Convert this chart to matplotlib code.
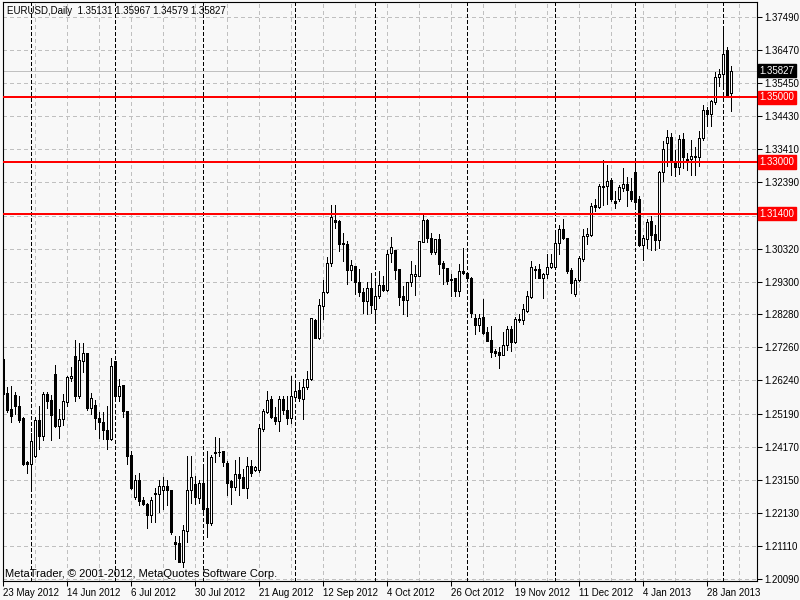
import numpy as np
import pandas as pd
import matplotlib
matplotlib.use("Agg")
import matplotlib.pyplot as plt

# EURUSD daily candles, 23 May 2012 .. 5 Feb 2013
open_ = [1.2690, 1.2585, 1.2535, 1.2579, 1.2544, 1.2507, 1.2371, 1.2366, 1.2391, 1.2501,
         1.2453, 1.2582, 1.2564, 1.2644, 1.2484, 1.2505, 1.2558, 1.2631, 1.2700, 1.2577,
         1.2685, 1.2708, 1.2539, 1.2548, 1.2507, 1.2494, 1.2471, 1.2443, 1.2683, 1.2577,
         1.2610, 1.2528, 1.2393, 1.2262, 1.2316, 1.2254, 1.2242, 1.2206, 1.2276, 1.2273,
         1.2286, 1.2296, 1.2285, 1.2124, 1.2120, 1.2062, 1.2159, 1.2283, 1.2303, 1.2259,
         1.2306, 1.2228, 1.2182, 1.2399, 1.2403, 1.2404, 1.2369, 1.2311, 1.2293, 1.2335,
         1.2326, 1.2292, 1.2360, 1.2345, 1.2345, 1.2472, 1.2525, 1.2566, 1.2511, 1.2499,
         1.2566, 1.2532, 1.2506, 1.2571, 1.2593, 1.2566, 1.2602, 1.2627, 1.2810, 1.2754,
         1.2854, 1.2898, 1.2988, 1.3120, 1.3117, 1.3049, 1.3047, 1.2965, 1.2978, 1.2929,
         1.2898, 1.2869, 1.2909, 1.2844, 1.2885, 1.2919, 1.2905, 1.3018, 1.3027, 1.2968,
         1.2885, 1.2873, 1.2927, 1.2948, 1.2948, 1.3053, 1.3120, 1.3066, 1.3020, 1.3061,
         1.2987, 1.2973, 1.2937, 1.2942, 1.2901, 1.2962, 1.2956, 1.2942, 1.2817, 1.2796,
         1.2819, 1.2774, 1.2749, 1.2716, 1.2713, 1.2704, 1.2735, 1.2783, 1.2742, 1.2814,
         1.2812, 1.2840, 1.2882, 1.2966, 1.2970, 1.2942, 1.2952, 1.2976, 1.2976, 1.3048,
         1.3093, 1.3065, 1.2967, 1.2890, 1.2936, 1.3001, 1.3072, 1.3075, 1.3168, 1.3161,
         1.3225, 1.3225, 1.3243, 1.3178, 1.3186, 1.3220, 1.3232, 1.3211, 1.3269, 1.3184,
         1.3044, 1.3062, 1.3117, 1.3077, 1.3060, 1.3268, 1.3359, 1.3377, 1.3297, 1.3284,
         1.3371, 1.3309, 1.3309, 1.3320, 1.3315, 1.3374, 1.3462, 1.3449, 1.3487, 1.3563,
         1.3573, 1.3647, 1.35131]
high = [1.2692, 1.2602, 1.2606, 1.2587, 1.2577, 1.2510, 1.2373, 1.2460, 1.2510, 1.2546,
        1.2589, 1.2589, 1.2580, 1.2671, 1.2535, 1.2582, 1.2636, 1.2664, 1.2749, 1.2739,
        1.2741, 1.2708, 1.2585, 1.2564, 1.2525, 1.2525, 1.2546, 1.2692, 1.2685, 1.2628,
        1.2610, 1.2528, 1.2404, 1.2331, 1.2338, 1.2262, 1.2245, 1.2262, 1.2290, 1.2314,
        1.2324, 1.2314, 1.2285, 1.2142, 1.2142, 1.2175, 1.2389, 1.2391, 1.2329, 1.2317,
        1.2365, 1.2404, 1.2393, 1.2448, 1.2445, 1.2404, 1.2373, 1.2314, 1.2376, 1.2386,
        1.2350, 1.2386, 1.2376, 1.2360, 1.2489, 1.2535, 1.2590, 1.2576, 1.2540, 1.2576,
        1.2576, 1.2576, 1.2638, 1.2612, 1.2620, 1.2627, 1.2653, 1.2818, 1.2813, 1.2875,
        1.2936, 1.3005, 1.3168, 1.3168, 1.3119, 1.3081, 1.3055, 1.2998, 1.2978, 1.2970,
        1.2911, 1.2929, 1.2957, 1.2929, 1.2964, 1.2947, 1.3029, 1.3069, 1.3027, 1.2968,
        1.2915, 1.2929, 1.2993, 1.2981, 1.3055, 1.3140, 1.3125, 1.3081, 1.3063, 1.3078,
        1.2994, 1.2973, 1.2953, 1.2942, 1.2984, 1.3035, 1.2960, 1.2945, 1.2829, 1.2829,
        1.2875, 1.2788, 1.2793, 1.2721, 1.2726, 1.2774, 1.2793, 1.2793, 1.2819, 1.2828,
        1.2860, 1.2900, 1.2993, 1.2978, 1.2983, 1.2957, 1.3014, 1.3014, 1.3081, 1.3106,
        1.3125, 1.3065, 1.2972, 1.2941, 1.3009, 1.3093, 1.3096, 1.3173, 1.3184, 1.3232,
        1.3307, 1.3292, 1.3250, 1.3209, 1.3230, 1.3281, 1.3253, 1.3250, 1.3297, 1.3194,
        1.3075, 1.3125, 1.3132, 1.3106, 1.3271, 1.3364, 1.3400, 1.3390, 1.3338, 1.3384,
        1.3390, 1.3328, 1.3369, 1.3348, 1.3395, 1.3477, 1.3470, 1.3493, 1.3580, 1.3587,
        1.3709, 1.3657, 1.35967]
low = [1.2580, 1.2525, 1.2494, 1.2520, 1.2494, 1.2362, 1.2338, 1.2288, 1.2386, 1.2412,
       1.2440, 1.2539, 1.2438, 1.2481, 1.2445, 1.2486, 1.2544, 1.2623, 1.2559, 1.2568,
       1.2649, 1.2533, 1.2520, 1.2474, 1.2445, 1.2443, 1.2412, 1.2438, 1.2566, 1.2561,
       1.2510, 1.2366, 1.2288, 1.2257, 1.2237, 1.2237, 1.2167, 1.2185, 1.2187, 1.2216,
       1.2226, 1.2237, 1.2149, 1.2072, 1.2062, 1.2046, 1.2124, 1.2245, 1.2242, 1.2245,
       1.2221, 1.2139, 1.2175, 1.2371, 1.2391, 1.2360, 1.2268, 1.2242, 1.2283, 1.2268,
       1.2290, 1.2259, 1.2329, 1.2343, 1.2340, 1.2468, 1.2523, 1.2507, 1.2488, 1.2466,
       1.2519, 1.2488, 1.2493, 1.2560, 1.2560, 1.2504, 1.2596, 1.2625, 1.2754, 1.2751,
       1.2813, 1.2895, 1.2978, 1.3096, 1.3024, 1.2993, 1.2921, 1.2936, 1.2890, 1.2885,
       1.2833, 1.2830, 1.2833, 1.2806, 1.2880, 1.2900, 1.2900, 1.2991, 1.2937, 1.2857,
       1.2829, 1.2824, 1.2917, 1.2889, 1.2946, 1.3051, 1.3051, 1.3014, 1.3014, 1.2953,
       1.2922, 1.2922, 1.2886, 1.2884, 1.2886, 1.2953, 1.2932, 1.2819, 1.2767, 1.2778,
       1.2769, 1.2747, 1.2695, 1.2698, 1.2661, 1.2702, 1.2719, 1.2716, 1.2739, 1.2805,
       1.2800, 1.2835, 1.2880, 1.2942, 1.2940, 1.2880, 1.2942, 1.2972, 1.2972, 1.3014,
       1.3062, 1.2957, 1.2895, 1.2885, 1.2933, 1.2993, 1.3045, 1.3070, 1.3148, 1.3158,
       1.3168, 1.3170, 1.3178, 1.3158, 1.3180, 1.3209, 1.3163, 1.3178, 1.3158, 1.3039,
       1.2998, 1.3035, 1.3029, 1.3029, 1.3034, 1.3242, 1.3287, 1.3261, 1.3256, 1.3264,
       1.3281, 1.3276, 1.3261, 1.3261, 1.3287, 1.3369, 1.3410, 1.3410, 1.3480, 1.3534,
       1.3534, 1.3501, 1.34579]
close = [1.2582, 1.2533, 1.2515, 1.2544, 1.2502, 1.2366, 1.2366, 1.2436, 1.2502, 1.2453,
         1.2582, 1.2561, 1.2518, 1.2484, 1.2505, 1.2561, 1.2633, 1.2636, 1.2577, 1.2687,
         1.2708, 1.2539, 1.2569, 1.2507, 1.2494, 1.2469, 1.2443, 1.2669, 1.2577, 1.2608,
         1.2528, 1.2391, 1.2290, 1.2316, 1.2252, 1.2240, 1.2206, 1.2255, 1.2271, 1.2296,
         1.2296, 1.2283, 1.2154, 1.2118, 1.2062, 1.2161, 1.2283, 1.2326, 1.2262, 1.2307,
         1.2226, 1.2182, 1.2388, 1.2402, 1.2401, 1.2371, 1.2307, 1.2293, 1.2335, 1.2322,
         1.2292, 1.2360, 1.2337, 1.2357, 1.2477, 1.2529, 1.2564, 1.2511, 1.2499, 1.2566,
         1.2532, 1.2506, 1.2576, 1.2591, 1.2569, 1.2602, 1.2627, 1.2816, 1.2756, 1.2856,
         1.2898, 1.2988, 1.3129, 1.3115, 1.3047, 1.3045, 1.2965, 1.2980, 1.2929, 1.2898,
         1.2869, 1.2911, 1.2857, 1.2885, 1.2919, 1.2905, 1.3016, 1.3038, 1.2966, 1.2883,
         1.2873, 1.2927, 1.2952, 1.2952, 1.3055, 1.3120, 1.3065, 1.3022, 1.3061, 1.2985,
         1.2973, 1.2932, 1.2934, 1.2901, 1.2962, 1.2956, 1.2942, 1.2832, 1.2796, 1.2817,
         1.2772, 1.2747, 1.2711, 1.2709, 1.2704, 1.2735, 1.2783, 1.2742, 1.2814, 1.2812,
         1.2846, 1.2885, 1.2975, 1.2970, 1.2942, 1.2952, 1.2976, 1.2986, 1.3050, 1.3093,
         1.3065, 1.2964, 1.2926, 1.2934, 1.3004, 1.3072, 1.3077, 1.3163, 1.3160, 1.3225,
         1.3222, 1.3242, 1.3186, 1.3173, 1.3222, 1.3233, 1.3214, 1.3184, 1.3175, 1.3044,
         1.3065, 1.3114, 1.3075, 1.3060, 1.3268, 1.3340, 1.3377, 1.3302, 1.3284, 1.3371,
         1.3315, 1.3305, 1.3320, 1.3315, 1.3374, 1.3462, 1.3449, 1.3489, 1.3563, 1.3573,
         1.3635, 1.3508, 1.35827]

levels = [1.35000, 1.33000, 1.31400]     # horizontal lines drawn by hand
bid = 1.35827
price_ticks = [1.37490, 1.36470, 1.35450, 1.34430, 1.33410, 1.32390, 1.31340,
               1.30320, 1.29300, 1.28280, 1.27260, 1.26240, 1.25190, 1.24170,
               1.23150, 1.22130, 1.21110, 1.20090]

# trading days: weekdays without Christmas and New Year
dates = pd.bdate_range("2012-05-23", "2013-02-05")
dates = dates[~dates.isin(pd.to_datetime(["2012-12-25", "2013-01-01"]))]

bg = "#f8f8f8"
thin = 0.68   # about one pixel
plt.rcParams["font.family"] = ["Liberation Sans", "DejaVu Sans"]

fig = plt.figure(figsize=(8, 6), dpi=100, facecolor=bg)
ax = fig.add_axes([2.5 / 800, 19 / 600, 754.5 / 800, 579 / 600], facecolor=bg)

o = np.array(open_)
c = np.array(close)
x = np.arange(len(o))
up = c >= o

# grid
for p in price_ticks:
    ax.axhline(p, color="#c0c0c0", lw=thin, ls=(0, (4, 4)), zorder=1, antialiased=False)
for k in range(0, 189, 8):
    ax.axvline(k, color="#c0c0c0", lw=thin, ls=(0, (4, 4)), zorder=1, antialiased=False)

# month separators
month = np.array([d.month for d in dates])
seps = np.where(month[1:] != month[:-1])[0] + 1
for s in seps:
    ax.axvline(s, color="black", lw=thin, ls=(0, (4, 3)), zorder=1.5, antialiased=False)

ax.axhline(bid, color="#c0c0c0", lw=thin, zorder=1.6, antialiased=False)

# candles
ax.vlines(x, low, high, color="black", lw=thin, zorder=3, antialiased=False)
ax.bar(x, np.abs(c - o), bottom=np.minimum(o, c), width=0.5,
       color=np.where(up, "white", "black"), edgecolor="black", linewidth=thin,
       zorder=4, antialiased=False)

for lv in levels:
    ax.axhline(lv, color="#ff0000", lw=1.4, zorder=5, antialiased=False)

ax.set_xlim(-0.25, 188.4)
ax.set_ylim(1.20028, 1.37954)

for sp in ax.spines.values():
    sp.set_linewidth(0.8)

ax.yaxis.tick_right()
ax.set_yticks(price_ticks)
ax.set_yticklabels(["" if p == 1.31340 else f"{p:.5f}" for p in price_ticks])
ax.tick_params(axis="y", length=3.5, width=0.75, pad=2.0, labelsize=7)

xt = list(range(0, len(dates), 16))
ax.set_xticks(xt)
ax.set_xticklabels([f"{dates[i].day} {dates[i]:%b %Y}" for i in xt], ha="left")
ax.tick_params(axis="x", length=3.5, width=0.75, pad=1.5, labelsize=7)

ytr = ax.get_yaxis_transform()
for lv in levels:
    ax.text(1.003, lv, f"{lv:.5f}", transform=ytr, ha="left", va="center", fontsize=7,
            color="white", clip_on=False, zorder=10,
            bbox=dict(boxstyle="square,pad=0.16", fc="#ff0000", ec="#ff0000"))
ax.text(1.003, bid, f"{bid:.5f}", transform=ytr, ha="left", va="center", fontsize=7,
        color="white", clip_on=False, zorder=10,
        bbox=dict(boxstyle="square,pad=0.16", fc="black", ec="black"))

ax.text(0.006, 0.985, f"EURUSD,Daily  {open_[-1]:.5f} {high[-1]:.5f} {low[-1]:.5f} {close[-1]:.5f}",
        transform=ax.transAxes, ha="left", va="center", fontsize=7, zorder=10)
ax.text(0.003, 0.012, "MetaTrader, \u00a9 2001-2012, MetaQuotes Software Corp.",
        transform=ax.transAxes, ha="left", va="center", fontsize=8, zorder=10)

fig.savefig("out.png", dpi=100, facecolor=bg)
